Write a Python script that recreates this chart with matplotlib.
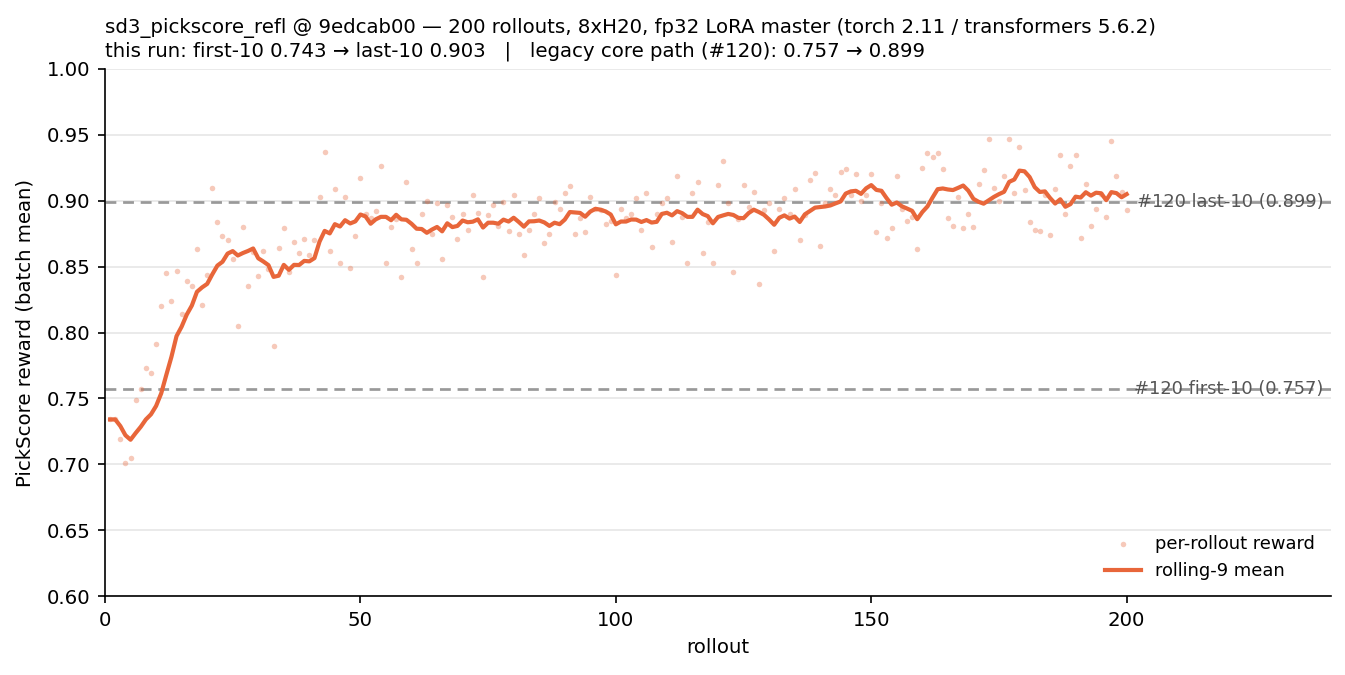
import matplotlib
matplotlib.use("Agg")
import matplotlib.pyplot as plt
import numpy as np
import pandas as pd

rollouts = list(range(1, 201))
rewards = [
    0.734, 0.734, 0.719, 0.701, 0.705, 0.749, 0.757, 0.773, 0.769, 0.791,
    0.820, 0.845, 0.824, 0.847, 0.814, 0.839, 0.835, 0.863, 0.821, 0.844,
    0.910, 0.884, 0.873, 0.870, 0.856, 0.805, 0.880, 0.835, 0.861, 0.843,
    0.862, 0.848, 0.790, 0.864, 0.879, 0.846, 0.869, 0.860, 0.871, 0.859,
    0.870, 0.903, 0.937, 0.862, 0.909, 0.853, 0.903, 0.849, 0.873, 0.917,
    0.890, 0.887, 0.892, 0.926, 0.853, 0.880, 0.886, 0.842, 0.914, 0.863,
    0.853, 0.890, 0.900, 0.875, 0.898, 0.856, 0.897, 0.888, 0.871, 0.890,
    0.878, 0.904, 0.891, 0.842, 0.889, 0.897, 0.881, 0.899, 0.877, 0.904,
    0.875, 0.859, 0.878, 0.890, 0.902, 0.868, 0.875, 0.899, 0.894, 0.906,
    0.911, 0.875, 0.887, 0.876, 0.903, 0.894, 0.893, 0.882, 0.885, 0.844,
    0.894, 0.887, 0.890, 0.902, 0.878, 0.906, 0.865, 0.890, 0.898, 0.902,
    0.869, 0.919, 0.888, 0.853, 0.906, 0.914, 0.860, 0.884, 0.853, 0.912,
    0.930, 0.898, 0.846, 0.886, 0.912, 0.895, 0.907, 0.837, 0.893, 0.898,
    0.862, 0.894, 0.902, 0.890, 0.909, 0.870, 0.889, 0.916, 0.921, 0.866,
    0.898, 0.909, 0.904, 0.922, 0.924, 0.904, 0.920, 0.900, 0.904, 0.920,
    0.876, 0.898, 0.872, 0.879, 0.919, 0.894, 0.885, 0.888, 0.863, 0.925,
    0.936, 0.933, 0.936, 0.924, 0.887, 0.881, 0.903, 0.879, 0.890, 0.880,
    0.913, 0.923, 0.947, 0.910, 0.900, 0.919, 0.947, 0.906, 0.941, 0.908,
    0.884, 0.878, 0.877, 0.904, 0.874, 0.909, 0.935, 0.890, 0.926, 0.935,
    0.872, 0.913, 0.881, 0.894, 0.905, 0.888, 0.945, 0.919, 0.907, 0.893,
]
window = 9
legacy_first10 = 0.757
legacy_last10 = 0.899
ref_values = [legacy_last10, legacy_first10]
ref_labels = ["#120 last-10 (0.899)", "#120 first-10 (0.757)"]
title_lines = [
    "sd3_pickscore_refl @ 9edcab00 \u2014 200 rollouts, 8xH20, fp32 LoRA master (torch 2.11 / transformers 5.6.2)",
    "this run: first-10 0.743 \u2192 last-10 0.903   |   legacy core path (#120): 0.757 \u2192 0.899",
]
yticks = [0.60, 0.65, 0.70, 0.75, 0.80, 0.85, 0.90, 0.95, 1.00]
xticks = [0, 50, 100, 150, 200]

rolling = pd.Series(rewards).rolling(window, min_periods=1).mean()

fig = plt.figure(figsize=(1345 / 150, 675 / 150), dpi=150)
ax = fig.add_axes([105 / 1345, 1 - 596 / 675, (1331 - 105) / 1345, (596 - 69) / 675])

line_color = "#e8663a"
ax.scatter(rollouts, rewards, s=7, color=line_color, alpha=0.35, linewidths=0,
           label="per-rollout reward", zorder=2)
ax.plot(rollouts, rolling, color=line_color, lw=2.0, label="rolling-9 mean", zorder=3)

for val, lab in zip(ref_values, ref_labels):
    ax.axhline(val, color="#999999", lw=1.3, ls=(0, (4, 2.5)), zorder=1)
    ax.text(238.5, val, lab, ha="right", va="center", fontsize=8.6, color="#555555", zorder=4)

ax.set_xlim(0, 240)
ax.set_ylim(0.60, 1.00)
ax.set_yticks(yticks)
ax.set_yticklabels([f"{v:.2f}" for v in yticks])
ax.set_xticks(xticks)
ax.tick_params(labelsize=9.5)
ax.grid(axis="y", color="#e6e6e6", lw=0.8)
ax.set_axisbelow(True)
for s in ["top", "right"]:
    ax.spines[s].set_visible(False)
ax.set_xlabel("rollout", fontsize=9.5)
ax.set_ylabel("PickScore reward (batch mean)", fontsize=9.5, labelpad=6)
ax.set_title("\n".join(title_lines), loc="left", fontsize=9.5, pad=6)
ax.legend(loc="lower right", frameon=False, fontsize=8.6, borderaxespad=0.5)

fig.savefig("out.png", dpi=150)
